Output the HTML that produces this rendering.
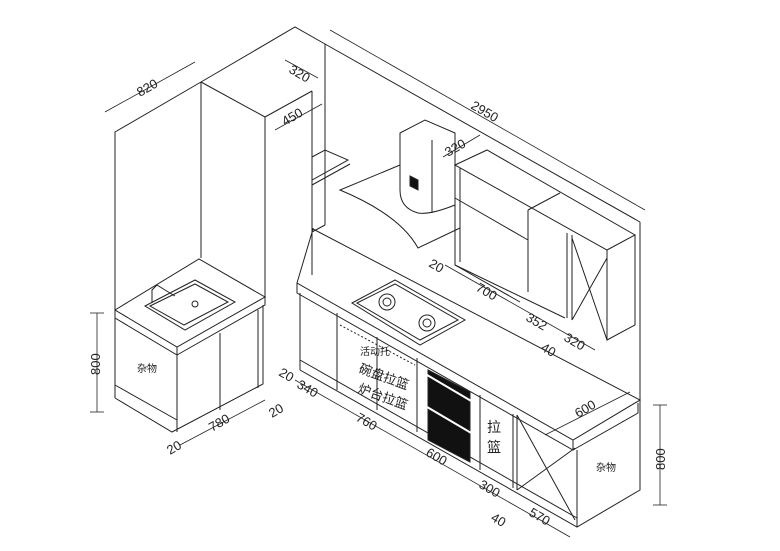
<!DOCTYPE html>
<html><head><meta charset="utf-8"><style>
html,body{margin:0;padding:0;background:#fff;width:780px;height:551px;overflow:hidden}
svg{display:block}
text{font-family:"Liberation Sans","Noto Sans CJK SC",sans-serif;fill:#222}
</style></head><body>
<svg width="780" height="551" viewBox="0 0 780 551" fill="none" stroke="#222" stroke-width="1">
<!-- walls -->
<polyline points="115,398 115,132 201,82 295,27 325,44 640,222"/>
<line x1="325" y1="44" x2="325" y2="225"/>
<line x1="325" y1="225" x2="312" y2="232"/>
<line x1="640" y1="222" x2="640" y2="410"/>
<!-- tall cabinet -->
<polyline points="201,82 265,117 312,91"/>
<line x1="201" y1="82" x2="201" y2="258"/>
<line x1="265" y1="117" x2="265" y2="300"/>
<line x1="312" y1="91" x2="312" y2="275"/>
<!-- shelf -->
<polygon points="312,157 325,150 348,160 312,180"/>
<line x1="312" y1="185" x2="350" y2="164"/>
<!-- left sink cabinet -->
<polygon points="115,310 199,259 265,297 177,347"/>
<polyline points="115,310 115,318 177,355 177,347"/>
<polyline points="177,355 265,305 265,297"/>
<line x1="177" y1="355" x2="177" y2="432"/>
<polyline points="115,398 172,432 263,384 263,305"/>
<line x1="115" y1="385" x2="177" y2="420"/>
<line x1="220" y1="333" x2="220" y2="410"/>
<line x1="258" y1="310" x2="258" y2="388"/>
<rect x="0" y="0" width="0" height="0"/>
<polygon points="145,306 195,280 235,302 185,330"/>
<polygon points="150,306 195,284 228,302 184,325"/>
<circle cx="195" cy="304" r="3"/>
<polyline points="152,303 152,290 157,285 165,290 175,296"/>
<!-- main counter -->
<polygon points="297,283 313,229 640,400 573,440"/>
<line x1="313" y1="229" x2="313" y2="228"/>
<polyline points="297,283 297,293 573,450 573,440"/>
<polyline points="573,450 638,413 638,403"/>
<line x1="300" y1="293" x2="300" y2="370"/>
<polyline points="300,370 577,527 640,490 640,410"/>
<line x1="577" y1="450" x2="577" y2="527"/>
<line x1="300" y1="360" x2="577" y2="518"/>
<!-- doors -->
<line x1="337" y1="313" x2="337" y2="390"/>
<line x1="417" y1="358" x2="417" y2="432"/>
<line x1="480" y1="395" x2="480" y2="470"/>
<line x1="513" y1="414" x2="513" y2="488"/>
<line x1="517" y1="415" x2="517" y2="490"/>
<line x1="517" y1="415" x2="575" y2="520"/>
<line x1="575" y1="448" x2="517" y2="490"/>
<line x1="340" y1="325" x2="415" y2="365" stroke-dasharray="2,2"/>
<line x1="377" y1="337" x2="377" y2="410"/>
<polygon points="428,370 470,392 470,462 428,440" fill="#111"/>
<line x1="422" y1="372" x2="478" y2="405" stroke="#fff" stroke-width="2"/>
<line x1="422" y1="404" x2="478" y2="437" stroke="#fff" stroke-width="2"/>
<!-- hob -->
<polygon points="352,303 395,280 465,320 420,345"/>
<polygon points="357,303 395,284 458,320 420,340"/>
<circle cx="387" cy="302" r="8"/><circle cx="387" cy="302" r="4"/>
<circle cx="427" cy="323" r="8"/><circle cx="427" cy="323" r="4"/>
<!-- hood -->
<path d="M400,133 L425,120 L455,133 L455,205 Q430,215 418,213 Q400,208 400,190 Z"/>
<line x1="432" y1="140" x2="432" y2="213"/>
<polygon points="410,176 418,180 418,190 410,186" fill="#111"/>
<path d="M400,165 L340,190 Q400,215 418,248 L460,228"/>
<!-- upper cabinets -->
<polygon points="455,165 487,150 635,235 607,250"/>
<polyline points="455,165 455,265 520,302"/>
<line x1="460" y1="168" x2="460" y2="262"/>
<line x1="455" y1="198" x2="528" y2="240"/>
<line x1="455" y1="265" x2="565" y2="318"/>
<line x1="528" y1="210" x2="528" y2="292"/>
<line x1="567" y1="233" x2="567" y2="318"/>
<line x1="572" y1="235" x2="572" y2="320"/>
<polyline points="607,250 607,340 635,325 635,235"/>
<line x1="572" y1="238" x2="607" y2="340"/>
<line x1="607" y1="258" x2="572" y2="320"/>
<line x1="528" y1="210" x2="560" y2="193"/>
<!-- dimension lines -->
<g stroke-width="0.8">
<line x1="105" y1="112" x2="195" y2="62"/>
<line x1="330" y1="30" x2="645" y2="210"/>
<line x1="285" y1="60" x2="318" y2="78"/>
<line x1="275" y1="130" x2="322" y2="104"/>
<line x1="443" y1="157" x2="480" y2="135"/>
<line x1="445" y1="265" x2="595" y2="350"/>
<line x1="97" y1="313" x2="97" y2="412"/>
<line x1="90" y1="313" x2="104" y2="313"/><line x1="90" y1="412" x2="104" y2="412"/>
<line x1="660" y1="405" x2="660" y2="505"/>
<line x1="653" y1="405" x2="667" y2="405"/><line x1="653" y1="505" x2="667" y2="505"/>
<line x1="180" y1="445" x2="265" y2="400"/>
<line x1="295" y1="380" x2="570" y2="537"/>
<line x1="545" y1="435" x2="630" y2="392"/>
</g>
<g stroke="none" font-size="13">
<text x="140" y="97" transform="rotate(-30 140 97)">820</text>
<text x="288" y="72" transform="rotate(30 288 72)">320</text>
<text x="285" y="126" transform="rotate(-30 285 126)">450</text>
<text x="470" y="108" transform="rotate(30 470 108)">2950</text>
<text x="448" y="157" transform="rotate(-30 448 157)">320</text>
<text x="428" y="266" transform="rotate(30 428 266)">20</text>
<text x="475" y="290" transform="rotate(30 475 290)">700</text>
<text x="525" y="320" transform="rotate(30 525 320)">352</text>
<text x="563" y="340" transform="rotate(30 563 340)">320</text>
<text x="540" y="350" transform="rotate(30 540 350)">40</text>
<text x="578" y="418" transform="rotate(-30 578 418)">600</text>
<text x="100" y="375" transform="rotate(-90 100 375)">800</text>
<text x="665" y="470" transform="rotate(-90 665 470)">800</text>
<text x="212" y="432" transform="rotate(-30 212 432)">780</text>
<text x="170" y="455" transform="rotate(-30 170 455)">20</text>
<text x="272" y="418" transform="rotate(-30 272 418)">20</text>
<text x="278" y="375" transform="rotate(30 278 375)">20</text>
<text x="296" y="387" transform="rotate(30 296 387)">340</text>
<text x="355" y="420" transform="rotate(30 355 420)">760</text>
<text x="425" y="455" transform="rotate(30 425 455)">600</text>
<text x="478" y="487" transform="rotate(30 478 487)">300</text>
<text x="490" y="520" transform="rotate(30 490 520)">40</text>
<text x="528" y="515" transform="rotate(30 528 515)">570</text>
<text x="137" y="372" font-size="10">杂物</text>
<text x="596" y="471" font-size="10">杂物</text>
<text x="360" y="355" font-size="10">活动托</text>
<text x="358" y="372" font-size="13" transform="rotate(20 358 372)">碗盘拉篮</text>
<text x="357" y="392" font-size="13" transform="rotate(20 357 392)">炉台拉篮</text>
<text x="487" y="432" font-size="14">拉</text>
<text x="487" y="452" font-size="14">篮</text>
</g>
</svg>
</body></html>
